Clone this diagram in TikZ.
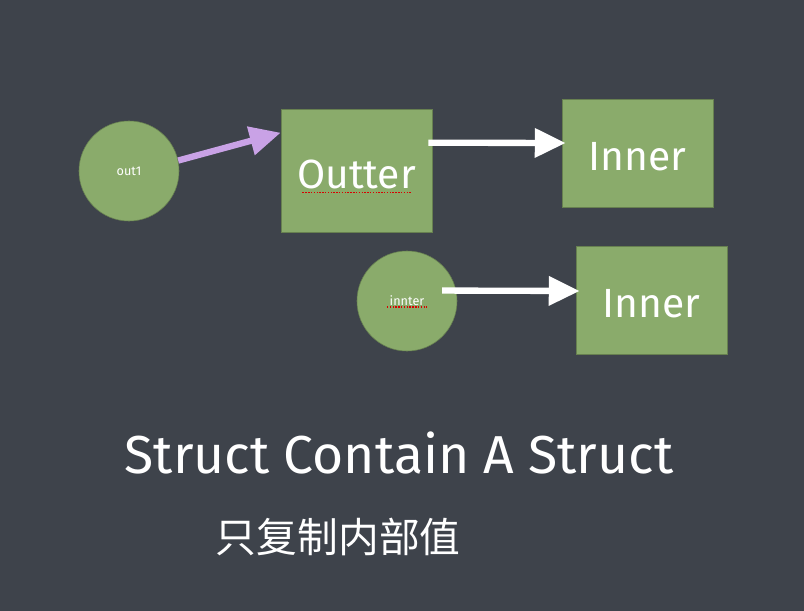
\documentclass[tikz,border=0pt]{standalone}
\usepackage{fontspec}
\setmainfont{Fira Sans}
\newfontfamily\cjk{Noto Sans CJK SC}
\usetikzlibrary{arrows.meta}

\definecolor{board}{HTML}{3E434B}
\definecolor{chalkgreen}{HTML}{8AAB6B}
\definecolor{chalkviolet}{HTML}{C9A2E6}

\tikzset{
	box/.style={draw=chalkgreen!75!black, fill=chalkgreen, minimum width=3.775cm, text height=0.9cm, text=white, font=\fontsize{29}{33}\selectfont},
	ball/.style={circle, draw=chalkgreen!75!black, fill=chalkgreen, minimum size=2.5cm, text=white, font=\fontsize{9}{11}\selectfont},
	chalk/.style={line width=4.5pt, -{Triangle[length=22pt,width=20pt]}},
	squiggle/.style={red!85!black, densely dotted, line width=1pt}
}

\begin{document}
\begin{tikzpicture}[x=0.025cm, y=-0.025cm]
			% board
			\fill[board] (0,0) rectangle (804,611);
			\useasboundingbox (0,0) rectangle (804,611);
	
			% structs
			\node[ball] (out1) at (129,171) {out1};
			\node[box, minimum height=3.075cm] (outter) at (356.5,170.5) {Outter};
			\node[box, minimum height=2.7cm] (inner1) at (637.5,153) {Inner};
			\node[ball] (innter) at (407,301) {innter};
			\node[box, minimum height=2.7cm] (inner2) at (651.5,300) {Inner};
	
			% spell check marks
			\draw[squiggle] ([xshift=-1.35cm, yshift=-0.55cm]outter.center) -- ([xshift=1.35cm, yshift=-0.55cm]outter.center);
			\draw[squiggle] ([xshift=-0.5cm, yshift=-0.15cm]innter.center) -- ([xshift=0.5cm, yshift=-0.15cm]innter.center);
	
			% arrows
			\draw[chalk, chalkviolet] (out1.12) -- ([yshift=-0.6cm]outter.north west);
			\draw[chalk, white] ([xshift=-0.1cm, yshift=-0.85cm]outter.north east) -- ([xshift=0.1cm, yshift=0.25cm]inner1.west);
			\draw[chalk, white] ([xshift=-0.35cm]innter.12) -- ([xshift=0.1cm, yshift=0.225cm]inner2.west);
	
			% captions
			\node[text=white, font=\fontsize{38}{44}\selectfont] (title) at (399,453) {Struct Contain A Struct};
			\node[text=white, font=\cjk\fontsize{29}{34}\selectfont, anchor=west] (note) at (211,537) {只复制内部值};
		\end{tikzpicture}
\end{document}
